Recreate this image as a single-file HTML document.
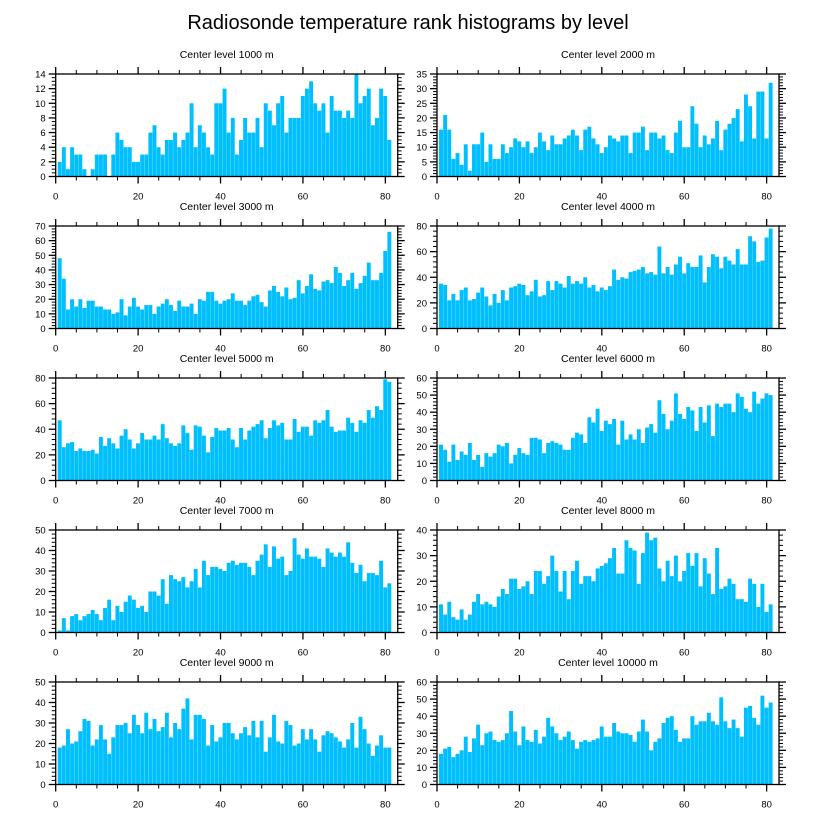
<!DOCTYPE html>
<html><head><meta charset="utf-8"><title>Radiosonde temperature rank histograms</title>
<style>
body{margin:0;background:#fff;}
svg{display:block;font-family:"Liberation Sans",Arial,sans-serif;}
</style></head>
<body>
<svg id="chart" width="816" height="824" viewBox="0 0 816 824" xmlns="http://www.w3.org/2000/svg">
<rect x="0" y="0" width="816" height="824" fill="#fff"/>
<text x="408" y="29" font-size="20" text-anchor="middle" fill="#000">Radiosonde temperature rank histograms by level</text>
</svg>
<script>
const levels = ["1000","2000","3000","4000","5000","6000","7000","8000","9000","10000"];
const yMax = [14,35,70,80,80,60,50,40,50,60];
const yMajor = [2,5,10,20,20,10,10,10,10,10];
const yMinor = [0.5,1,2,4,4,2,2,2,2,2];
const xTicks = [0,20,40,60,80];
const c1000 = [2,4,1,4,3,3,1,0,1,3,3,3,0,3,6,5,4,4,2,2,3,3,6,7,4,3,5,5,6,4,5,6,10,4,7,6,4,3,10,10,12,6,8,3,5,8,6,6,8,4,10,9,7,10,11,6,8,8,8,11,12,13,10,9,10,6,11,9,9,8,9,8,14,10,11,12,7,8,12,11,5];
const c2000 = [16,21,16,6,8,4,11,2,11,11,15,5,11,6,6,11,8,10,13,12,10,12,8,10,15,12,9,14,11,11,13,14,16,14,9,16,17,13,11,8,10,14,13,12,14,14,8,15,15,17,9,15,15,13,14,9,8,15,19,10,10,24,18,10,14,11,13,19,9,16,18,20,23,12,28,24,13,29,29,13,32];
const c3000 = [48,34,13,20,15,20,14,19,19,15,15,13,13,10,11,20,9,15,21,15,13,16,16,10,15,17,20,16,12,19,15,15,17,10,20,19,25,25,19,17,19,20,24,19,19,16,19,22,23,18,15,26,29,25,22,28,20,21,33,24,29,37,27,26,32,33,31,42,38,29,33,38,27,31,36,45,33,33,38,53,66];
const c4000 = [35,34,22,27,22,30,32,22,23,28,32,25,18,27,20,30,22,32,33,35,34,26,29,38,25,26,37,30,37,35,32,41,35,37,35,40,32,34,29,32,30,33,46,38,40,39,44,45,46,48,43,44,42,64,43,48,42,50,56,43,51,48,48,57,36,48,58,56,47,56,53,50,62,50,50,72,68,52,53,71,78];
const c5000 = [47,26,29,30,23,25,23,23,24,21,34,27,33,29,25,35,40,32,25,29,37,32,32,35,32,44,33,29,27,29,43,37,24,43,42,35,22,34,41,39,39,41,32,26,41,32,39,42,44,47,33,41,47,43,45,32,32,48,38,42,42,35,47,45,47,55,42,38,39,39,49,45,38,47,45,55,49,58,55,79,77];
const c6000 = [21,18,11,21,12,17,15,22,12,15,8,16,14,16,21,20,22,10,15,19,16,15,25,25,24,16,22,23,22,21,18,18,25,28,27,22,37,34,42,29,35,33,36,21,35,24,27,24,30,22,31,33,28,47,39,30,35,51,39,36,43,41,29,43,34,44,26,45,43,45,45,40,51,49,42,40,52,45,48,51,50];
const c7000 = [1,7,1,8,9,6,8,9,11,9,6,12,16,6,13,10,15,18,16,12,13,10,20,20,18,26,14,28,26,25,27,22,25,31,22,35,28,32,32,31,30,34,35,33,34,34,32,28,35,38,43,32,42,36,37,28,30,46,38,36,41,37,37,36,32,41,39,37,39,37,44,34,29,33,25,29,29,28,35,22,24];
const c8000 = [11,7,12,6,5,9,5,7,12,15,11,12,11,10,14,17,15,21,21,17,18,20,15,24,24,19,22,30,24,16,24,13,24,28,19,22,22,20,25,26,27,29,33,23,23,36,33,32,19,31,39,36,37,25,20,28,22,30,20,24,31,26,31,18,29,23,15,33,17,18,21,19,13,13,12,21,19,10,19,8,11];
const c9000 = [18,19,27,20,21,26,32,31,19,22,29,22,15,23,29,29,30,25,34,29,25,35,27,32,26,28,35,23,30,27,37,42,22,34,34,32,19,29,21,23,30,30,25,22,25,28,24,31,23,31,16,23,34,21,20,31,29,19,20,27,22,27,22,16,24,26,25,23,21,18,22,30,18,33,27,20,14,19,24,18,18];
const c10000 = [18,21,22,16,18,20,28,19,27,35,23,30,31,26,25,26,30,43,31,23,34,26,25,32,24,28,39,34,30,26,28,31,26,21,25,26,25,26,27,34,28,28,36,31,30,30,29,25,31,38,31,20,25,27,36,39,40,32,25,27,27,40,35,37,37,42,37,35,51,37,33,38,33,28,45,46,39,35,52,45,48];
const counts = [c1000,c2000,c3000,c4000,c5000,c6000,c7000,c8000,c9000,c10000];

const NS = "http://www.w3.org/2000/svg";
const svg = document.getElementById("chart");
const XMAX = 83;
function mk(tag, attrs, parent){
  const e = document.createElementNS(NS, tag);
  for (const k in attrs) e.setAttribute(k, attrs[k]);
  parent.appendChild(e);
  return e;
}
for (let p = 0; p < 10; p++) {
  const col = p % 2, row = Math.floor(p / 2);
  const L = col === 0 ? 55.7 : 437;
  const W = 342;
  const T = 74 + row * 152;
  const H = 102.5;
  const B = T + H;
  const xs = v => L + v / XMAX * W;
  const ys = v => B - v / yMax[p] * H;
  const g = mk("g", {}, svg);
  
  
  const t = mk("text", {x: L + W / 2, y: T - 16, "font-size": "10.5", "text-anchor": "middle", fill: "#000"}, g);
  t.textContent = "Center level " + levels[p] + " m";
  
  
  const data = counts[p];
  for (let i = 0; i < data.length; i++) {
    const r = i + 1;
    const x0 = xs(r - 0.5), x1 = xs(r + 0.45);
    const bar = mk("rect", {x: x0, y: ys(data[i]), width: x1 - x0, height: B - ys(data[i]), fill: "#00bfff"}, g);
    
    
  }
  const fr = mk("rect", {x: L, y: T, width: W, height: H, fill: "none", stroke: "#000", "stroke-width": "1.3"}, g);
  
  
  for (let v = 0; v <= XMAX; v += 5) {
    const major = v % 20 === 0;
    const len = major ? 7 : 4;
    const x = xs(v);
    mk("line", {x1: x, x2: x, y1: B, y2: B + len, stroke: "#000", "stroke-width": major ? 1.3 : 1}, g);
    mk("line", {x1: x, x2: x, y1: T, y2: T - len, stroke: "#000", "stroke-width": major ? 1.3 : 1}, g);
  }
  for (const v of xTicks) {
    const lb = mk("text", {x: xs(v), y: B + 23, "font-size": "9.5", "text-anchor": "middle", fill: "#000"}, g);
    lb.textContent = v;
    
    
  }
  const nMin = Math.round(yMax[p] / yMinor[p]);
  for (let k = 0; k <= nMin; k++) {
    const v = k * yMinor[p];
    const major = Math.abs(v / yMajor[p] - Math.round(v / yMajor[p])) < 1e-6;
    const len = major ? 7 : 4;
    const y = ys(v);
    mk("line", {x1: L, x2: L - len, y1: y, y2: y, stroke: "#000", "stroke-width": major ? 1.3 : 1}, g);
    mk("line", {x1: L + W, x2: L + W + len, y1: y, y2: y, stroke: "#000", "stroke-width": major ? 1.3 : 1}, g);
    if (major) {
      const lb = mk("text", {x: L - 10, y: y + 3.5, "font-size": "9.5", "text-anchor": "end", fill: "#000"}, g);
      lb.textContent = Math.round(v);
      
      
    }
  }
}
</script>
</body></html>
